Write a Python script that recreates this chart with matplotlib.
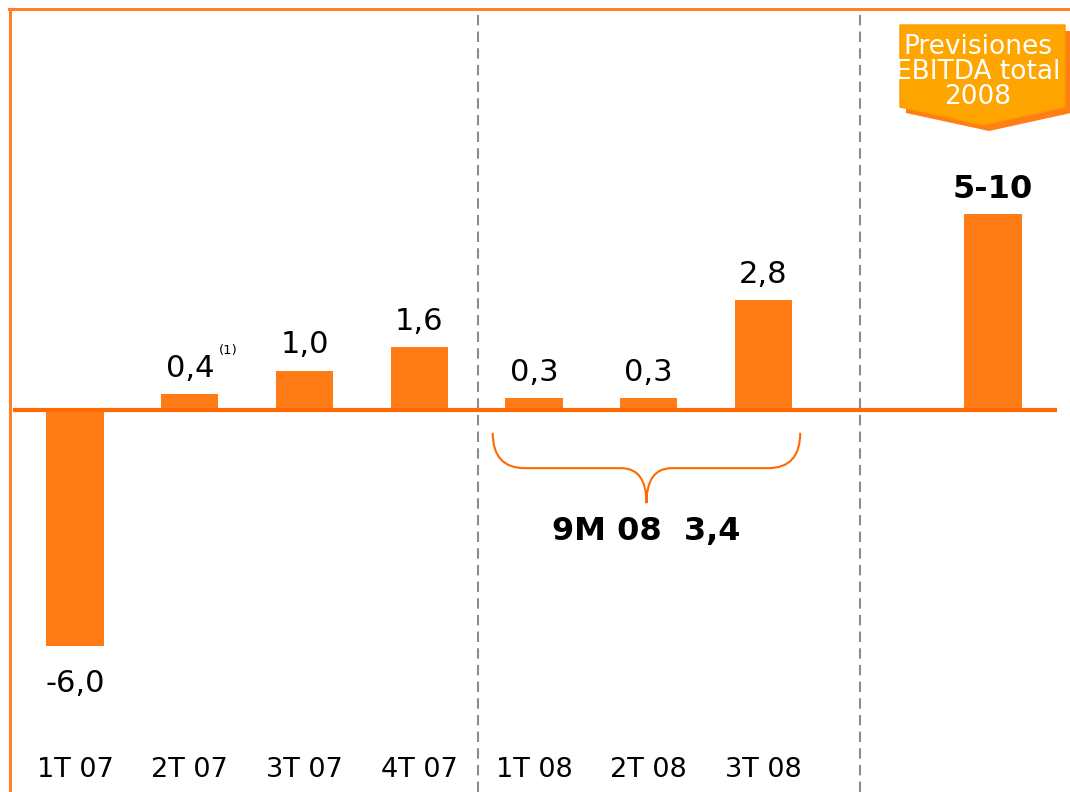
import matplotlib
matplotlib.use("Agg")
import matplotlib.pyplot as plt
from matplotlib.path import Path
from matplotlib.patches import PathPatch, Polygon
from matplotlib.lines import Line2D

# ---- data ----
categories = ["1T 07", "2T 07", "3T 07", "4T 07", "1T 08", "2T 08", "3T 08"]
values = [-6.0, 0.4, 1.0, 1.6, 0.3, 0.3, 2.8]
value_labels = ["-6,0", "0,4", "1,0", "1,6", "0,3", "0,3", "2,8"]
forecast_value = 5.0
forecast_label = "5-10"
forecast_title = ["Previsiones", "EBITDA total", "2008"]
sum_label = "9M 08  3,4"
footnote = "(1)"

BAR = "#FF7B15"
LINE = "#FF6A00"
W, H = 1070, 792
PPU = 39.3  # pixels per unit

fig = plt.figure(figsize=(W / 100, H / 100), dpi=100)
ax = fig.add_axes([0, 0, 1, 1])
ax.set_xlim(-0.6536, 8.671)
ax.set_ylim(-382 / PPU, 410 / PPU)
ax.axis("off")

xs = list(range(len(categories)))
x_fc = 8

ax.bar(xs, values, width=0.5, color=BAR, zorder=2)
ax.bar([x_fc], [forecast_value], width=0.5, color=BAR, zorder=2)

# zero line
ax.axhline(0, xmin=15 / W, xmax=1055 / W, color=LINE, lw=3, zorder=3)

# dashed separators
for sx in (3.51, 6.84):
    ax.axvline(sx, ymin=0, ymax=1 - 10 / H, color="#8c8c8c", lw=1.5,
               dashes=(5, 3), zorder=1)

# value labels
for x, v, lab in zip(xs, values, value_labels):
    if v >= 0:
        ax.annotate(lab, (x, v), xytext=(0, 12.5), textcoords="offset points",
                    ha="center", va="baseline", fontsize=22, color="black")
    else:
        ax.annotate(lab, (x, v), xytext=(0, -33), textcoords="offset points",
                    ha="center", va="baseline", fontsize=22, color="black")
# footnote on 0,4
ax.annotate(footnote, (1, values[1]), xytext=(28, 29), textcoords="offset points",
            ha="center", va="baseline", fontsize=9.5, color="black")

ax.annotate(forecast_label, (x_fc, forecast_value), xytext=(0, 11.5),
            textcoords="offset points", ha="center", va="baseline",
            fontsize=23, fontweight="bold", color="black")

# category labels
tr = ax.get_xaxis_transform()
for x, c in zip(xs, categories):
    ax.text(x, 1 - 777 / H, c, transform=tr, ha="center", va="baseline",
            fontsize=19.5, color="black")

# brace under 2008 quarters
xl, xr, xc = 3.64, 6.32, 4.98
yt, ym, yb = -0.58, -1.48, -2.37
verts = [(xl, yt), (xl, ym), (xl + 0.28, ym),
         (xc - 0.22, ym),
         (xc, ym), (xc, yb),
         (xc, ym), (xc + 0.22, ym),
         (xr - 0.28, ym),
         (xr, ym), (xr, yt)]
codes = [Path.MOVETO, Path.CURVE3, Path.CURVE3,
         Path.LINETO,
         Path.CURVE3, Path.CURVE3,
         Path.CURVE3, Path.CURVE3,
         Path.LINETO,
         Path.CURVE3, Path.CURVE3]
ax.add_patch(PathPatch(Path(verts, codes), fill=False, edgecolor=LINE, lw=1.5))
ax.text(xc, yb - 0.95, sum_label, ha="center", va="baseline",
        fontsize=23, fontweight="bold", color="black")

# callout banner
def px(pts, dx=0, dy=0):
    return [((x + dx) / W, 1 - (y + dy) / H) for x, y in pts]

shape = [(900, 25), (1065, 25), (1065, 107), (983, 125), (900, 107)]
fig.add_artist(Polygon(px(shape, 6, 6), closed=True, transform=fig.transFigure,
                       facecolor="#FF7F15", edgecolor="none", zorder=4))
fig.add_artist(Polygon(px(shape), closed=True, transform=fig.transFigure,
                       facecolor="#FFA500", edgecolor="#FF9A00", lw=1, zorder=5))
for i, line in enumerate(forecast_title):
    fig.text(978 / W, 1 - (54 + 25 * i) / H, line, ha="center", va="baseline",
             fontsize=19, color="white", zorder=6)

# orange border (left + top)
fig.add_artist(Line2D([10 / W, 10 / W], [0, 1 - 9 / H], transform=fig.transFigure,
                      color="#FF8026", lw=2.2, zorder=7))
fig.add_artist(Line2D([9 / W, 1], [1 - 9 / H, 1 - 9 / H], transform=fig.transFigure,
                      color="#FF8026", lw=2.2, zorder=7))

fig.savefig("out.png", dpi=100)
